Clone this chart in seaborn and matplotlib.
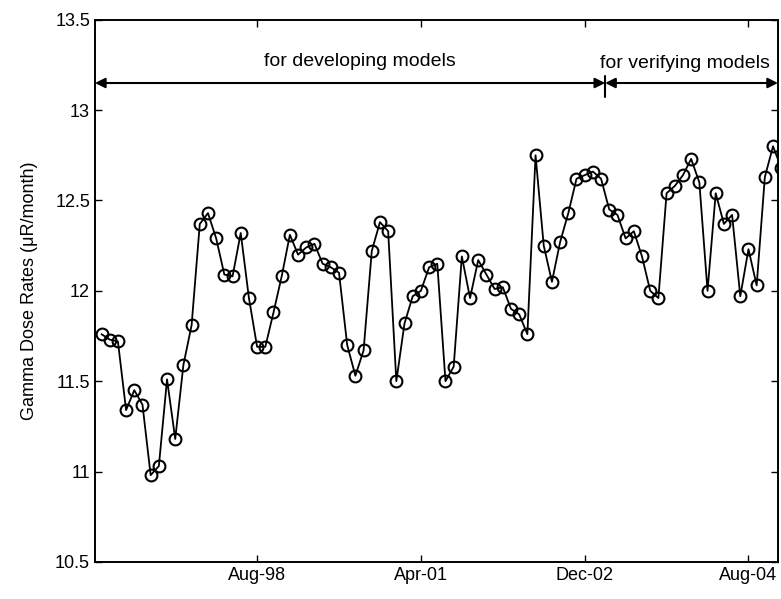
import numpy as np
import pandas as pd
import seaborn as sns
import matplotlib.pyplot as plt

# monthly gamma dose rates (index = sample number)
rates = [11.76, 11.73, 11.72, 11.34, 11.45, 11.37, 10.98, 11.03, 11.51, 11.18,
         11.59, 11.81, 12.37, 12.43, 12.29, 12.09, 12.08, 12.32, 11.96, 11.69,
         11.69, 11.88, 12.08, 12.31, 12.20, 12.24, 12.26, 12.15, 12.13, 12.10,
         11.70, 11.53, 11.67, 12.22, 12.38, 12.33, 11.50, 11.82, 11.97, 12.00,
         12.13, 12.15, 11.50, 11.58, 12.19, 11.96, 12.17, 12.09, 12.01, 12.02,
         11.90, 11.87, 11.76, 12.75, 12.25, 12.05, 12.27, 12.43, 12.62, 12.64,
         12.66, 12.62, 12.45, 12.42, 12.29, 12.33, 12.19, 12.00, 11.96, 12.54,
         12.58, 12.64, 12.73, 12.60, 12.00, 12.54, 12.37, 12.42, 11.97, 12.23,
         12.03, 12.63, 12.80, 12.68]
tick_pos = [19, 39, 59, 79]
tick_labels = ['Aug-98', 'Apr-01', 'Dec-02', 'Aug-04']
split_at = 61.5

df = pd.DataFrame({'idx': np.arange(len(rates)), 'rate': rates})

sns.set_style('ticks')
plt.rcParams['font.family'] = ['Liberation Sans', 'DejaVu Sans']
plt.rcParams['text.color'] = 'black'
plt.rcParams['axes.labelcolor'] = 'black'

fig = plt.figure(figsize=(7.81, 5.99), dpi=100)
ax = fig.add_axes([0.1216, 0.062, 0.8745, 0.905])

sns.lineplot(data=df, x='idx', y='rate', ax=ax, color='black', lw=1.3,
             marker='o', markersize=8.5, markerfacecolor='none',
             markeredgecolor='black', markeredgewidth=1.5)

ax.set_xlim(-0.8, 82.6)
ax.set_ylim(10.5, 13.5)
ax.set_xticks(tick_pos)
ax.set_xticklabels(tick_labels)
ax.set_yticks([10.5, 11, 11.5, 12, 12.5, 13, 13.5])
ax.set_yticklabels(['10.5', '11', '11.5', '12', '12.5', '13', '13.5'])
ax.tick_params(direction='in', top=True, right=True, length=5, width=1,
               labelsize=13, colors='black')
ax.set_xlabel('')
ax.set_ylabel('Gamma Dose Rates (\u03bcR/month)', fontsize=13, color='black')
ax.yaxis.set_label_coords(-0.083, 0.5)
for s in ax.spines.values():
    s.set_visible(True)
    s.set_linewidth(1.4)
    s.set_color('black')

# period annotations
y_arr = 13.15
ax.annotate('', xy=(-0.8, y_arr), xytext=(split_at, y_arr),
            arrowprops=dict(arrowstyle='<|-|>', color='black', lw=1.5,
                            mutation_scale=15, shrinkA=0, shrinkB=0))
ax.annotate('', xy=(split_at, y_arr), xytext=(82.6, y_arr),
            arrowprops=dict(arrowstyle='<|-|>', color='black', lw=1.5,
                            mutation_scale=15, shrinkA=0, shrinkB=0))
ax.plot([split_at, split_at], [13.07, 13.19], color='black', lw=1.5)
ax.text(31.5, 13.27, 'for developing models', ha='center', va='center',
        fontsize=14, color='black')
ax.text(71.2, 13.26, 'for verifying models', ha='center', va='center',
        fontsize=14, color='black')

fig.savefig('out.png', dpi=100)
